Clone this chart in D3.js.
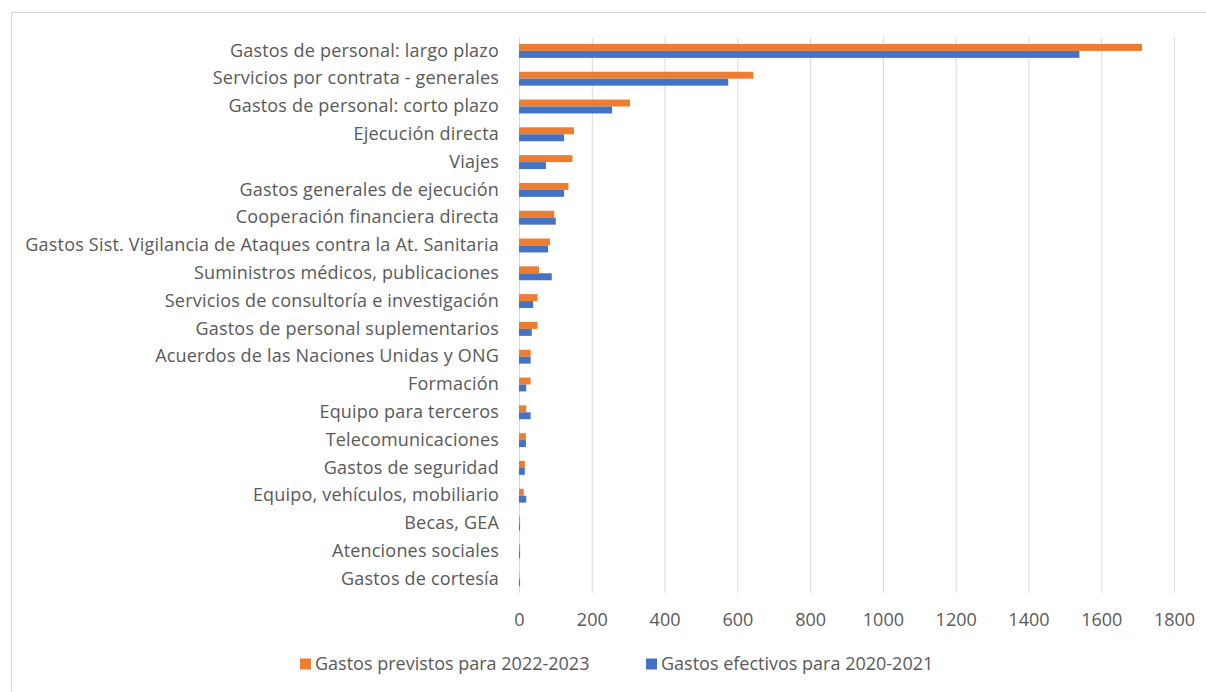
<!DOCTYPE html>
<html>
<head>
<meta charset="utf-8">
<script src="https://cdn.jsdelivr.net/npm/d3@7"></script>
<style>
  html, body { margin: 0; padding: 0; background: #fff; }
  svg { display: block; }
  text { font-family: "Open Sans", "Noto Sans", sans-serif; fill: #595959; }
</style>
</head>
<body>
<svg id="chart" width="1206" height="692"></svg>
<script>
// Expense categories, top to bottom
const categories = [
  "Gastos de personal: largo plazo",
  "Servicios por contrata - generales",
  "Gastos de personal: corto plazo",
  "Ejecución directa",
  "Viajes",
  "Gastos generales de ejecución",
  "Cooperación financiera directa",
  "Gastos Sist. Vigilancia de Ataques contra la At. Sanitaria",
  "Suministros médicos, publicaciones",
  "Servicios de consultoría e investigación",
  "Gastos de personal suplementarios",
  "Acuerdos de las Naciones Unidas y ONG",
  "Formación",
  "Equipo para terceros",
  "Telecomunicaciones",
  "Gastos de seguridad",
  "Equipo, vehículos, mobiliario",
  "Becas, GEA",
  "Atenciones sociales",
  "Gastos de cortesía"
];

// Planned spending 2022-2023
const previstos = [1712, 644, 305, 151, 147, 136, 97, 85, 55, 51, 51, 32, 32, 20, 19, 16, 13, 3, 3, 1];

// Actual spending 2020-2021
const efectivos = [1540, 575, 256, 124, 74, 124, 101, 80, 90, 39, 35, 32, 20, 32, 19, 16, 20, 3, 3, 3];

const seriesNames = ["Gastos previstos para 2022-2023", "Gastos efectivos para 2020-2021"];
const seriesColors = ["#ED7D31", "#4472C4"];
const xTicks = [0, 200, 400, 600, 800, 1000, 1200, 1400, 1600, 1800];

const FONT = "Open Sans, Noto Sans, sans-serif";
const svg = d3.select("#chart");

// outer chart frame
svg.append("rect")
  .attr("x", 11.5).attr("y", 12.5)
  .attr("width", 1400).attr("height", 900)
  .attr("fill", "none").attr("stroke", "#d9d9d9");

const plot = { left: 519, right: 1174, top: 37, bottom: 593 };

const x = d3.scaleLinear().domain([0, 1800]).range([plot.left, plot.right]);
const y = d3.scaleBand().domain(categories).range([plot.top, plot.bottom])
  .paddingInner(0.5).paddingOuter(0.25);
const ySub = d3.scaleBand().domain([0, 1]).range([0, y.bandwidth()]);

// vertical gridlines
svg.append("g")
  .selectAll("line")
  .data(xTicks)
  .join("line")
  .attr("x1", d => x(d) + 0.5).attr("x2", d => x(d) + 0.5)
  .attr("y1", plot.top).attr("y2", plot.bottom)
  .attr("stroke", "#d9d9d9").attr("stroke-width", 1);

// x axis tick labels
const xAxis = d3.axisBottom(x).tickValues(xTicks).tickFormat(d3.format("d"))
  .tickSize(0).tickPadding(20);
const gx = svg.append("g")
  .attr("transform", `translate(0,${plot.bottom})`)
  .call(xAxis);
gx.select(".domain").remove();
gx.selectAll("text")
  .attr("font-size", 18)
  .attr("font-family", FONT)
  .attr("fill", "#595959");

// category labels
const yAxis = d3.axisLeft(y).tickSize(0).tickPadding(20);
const gy = svg.append("g")
  .attr("transform", `translate(${plot.left},0)`)
  .call(yAxis);
gy.select(".domain").remove();
gy.selectAll("text")
  .attr("font-size", 18)
  .attr("letter-spacing", 0.2)
  .attr("font-family", FONT)
  .attr("fill", "#595959");

// bars
const rows = categories.map((c, i) => ({ cat: c, vals: [previstos[i], efectivos[i]] }));
const groups = svg.append("g")
  .selectAll("g")
  .data(rows)
  .join("g")
  .attr("transform", d => `translate(0,${y(d.cat)})`);

groups.selectAll("rect")
  .data(d => d.vals.map((v, k) => ({ v, k })))
  .join("rect")
  .attr("x", x(0))
  .attr("y", d => ySub(d.k))
  .attr("width", d => x(d.v) - x(0))
  .attr("height", ySub.bandwidth())
  .attr("fill", d => seriesColors[d.k]);

// legend
const legendPos = [300, 646];
const legend = svg.append("g")
  .selectAll("g")
  .data(seriesNames)
  .join("g")
  .attr("transform", (d, i) => `translate(${legendPos[i]},664)`);
legend.append("rect")
  .attr("x", 0).attr("y", -5.5)
  .attr("width", 11).attr("height", 11)
  .attr("fill", (d, i) => seriesColors[i]);
legend.append("text")
  .attr("x", 15).attr("y", 0)
  .attr("dy", "0.35em")
  .attr("font-size", 18)
  .text(d => d);
</script>
</body>
</html>
